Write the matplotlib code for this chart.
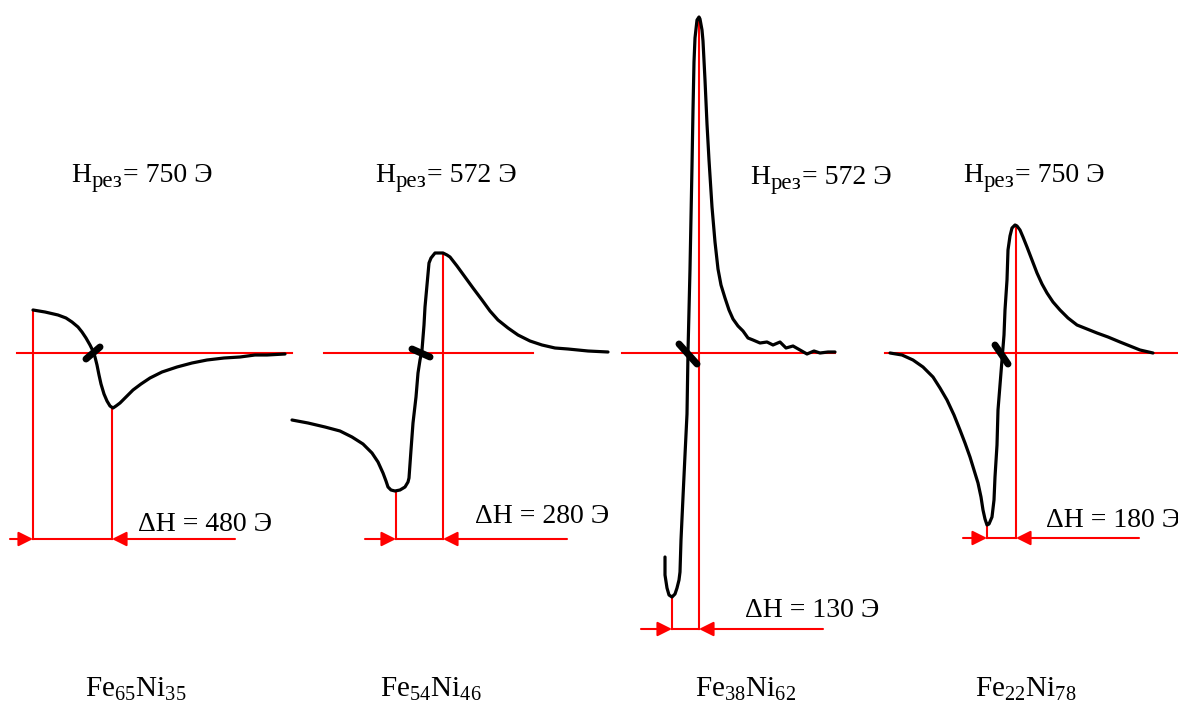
import numpy as np
import matplotlib
matplotlib.use("Agg")
import matplotlib.pyplot as plt

plt.rcParams["font.family"] = ["Liberation Serif", "DejaVu Serif"]
plt.rcParams["mathtext.fontset"] = "custom"
plt.rcParams["mathtext.rm"] = "Liberation Serif"
plt.rcParams["mathtext.it"] = "Liberation Serif:italic"

# curves, image pixel coordinates (x right, y down)
fe65_x = [33, 45, 58, 66, 72, 78, 82, 86, 90, 93, 95, 97, 99, 101, 104, 107, 110, 113,
          116, 120, 126, 133, 141, 150, 162, 177, 192, 207, 224, 240, 255, 267, 285]
fe65_y = [310, 312, 315, 318, 322, 327, 332, 338, 345, 351, 357, 365, 375, 384, 394, 401, 406, 408,
          406, 403, 397, 390, 384, 378, 372, 367, 363, 360, 358, 357, 355, 355, 354]

fe54_x = [292, 308, 325, 340, 352, 363, 372, 378, 383, 386, 388, 391, 395, 400, 405, 408,
          409, 411, 413, 416, 418, 420, 422, 424, 425, 427, 429, 431, 435, 440, 443, 447,
          450, 457, 465, 473, 482, 490, 498, 508, 518, 530, 542, 555, 568, 588, 608]
fe54_y = [420, 423, 427, 431, 437, 444, 453, 462, 473, 481, 487, 490, 491, 490, 487, 482,
          478, 450, 423, 397, 373, 360, 350, 325, 307, 285, 263, 258, 253, 253, 253, 255,
          257, 266, 277, 288, 300, 311, 320, 328, 335, 341, 345, 348, 349, 351, 352]

fe38_x = [665, 665, 667, 669, 672, 675, 677, 679, 680, 681, 683, 685, 687, 688, 690, 692,
          693, 694, 695, 697, 699, 700, 702, 703, 705, 707, 709, 712, 715, 718, 721, 725,
          729, 733, 738, 743, 748, 753, 760, 767, 773, 780, 786, 793, 800, 807, 814, 820, 828, 835]
fe38_y = [557, 575, 588, 595, 597, 594, 588, 580, 572, 540, 497, 455, 414, 352, 269, 166,
          110, 62, 38, 20, 17, 19, 30, 41, 80, 124, 160, 207, 242, 269, 285, 298,
          310, 319, 326, 331, 338, 340, 343, 342, 345, 342, 348, 346, 350, 354, 351, 353, 352, 352]

fe22_x = [890, 902, 913, 923, 933, 940, 947, 954, 960, 965, 970, 974, 978, 981, 983, 985,
          987, 989, 992, 994, 995, 997, 998, 1000, 1002, 1004, 1005, 1007, 1008, 1010, 1012,
          1015, 1017, 1020, 1023, 1027, 1032, 1037, 1042, 1047, 1053, 1060, 1068, 1077, 1087,
          1097, 1108, 1120, 1130, 1140, 1153]
fe22_y = [353, 355, 360, 367, 377, 388, 400, 415, 430, 443, 457, 470, 483, 497, 510, 519,
          525, 524, 517, 500, 477, 445, 410, 385, 360, 335, 310, 280, 250, 236, 228,
          225, 226, 230, 237, 247, 260, 273, 284, 293, 302, 310, 318, 325, 329,
          333, 337, 342, 346, 350, 353]

curves = [(fe65_x, fe65_y), (fe54_x, fe54_y), (fe38_x, fe38_y), (fe22_x, fe22_y)]

# guide lines per panel
base_y = 353
base_x0 = [17, 324, 622, 885]
base_x1 = [292, 533, 835, 1178]
left_x = [33, 396, 672, 987]
left_top = [310, 491, 598, 525]
right_x = [112, 443, 699, 1016]
right_top = [408, 253, 17, 225]
arrow_y = [539, 539, 629, 538]
arrow_x0 = [10, 365, 641, 963]
arrow_x1 = [235, 567, 823, 1139]
tick_x = [(86, 100), (412, 430), (679, 697), (995, 1008)]
tick_y = [(359, 347), (349, 357), (344, 364), (345, 364)]

dh_labels = ["ΔH = 480 Э", "ΔH = 280 Э", "ΔH = 130 Э", "ΔH = 180 Э"]
dh_pos = [(138, 531), (475, 523), (745, 617), (1046, 527)]
h_values = ["750", "572", "572", "750"]
h_pos = [(71, 182), (375, 182), (750, 184), (963, 182)]
alloys = [r"$\mathregular{Fe_{65}Ni_{35}}$", r"$\mathregular{Fe_{54}Ni_{46}}$",
          r"$\mathregular{Fe_{38}Ni_{62}}$", r"$\mathregular{Fe_{22}Ni_{78}}$"]
alloy_pos = [(85, 697), (380, 697), (695, 697), (975, 697)]

fig = plt.figure(figsize=(11.78, 7.04), dpi=100)
ax = fig.add_axes([0, 0, 1, 1])
ax.set_xlim(0, 1178)
ax.set_ylim(704, 0)
ax.axis("off")
renderer = fig.canvas.get_renderer()

red = "#ff0000"
fs = 20


def h_label(x, y, value):
    # "H" + lowered smaller "рез" + "= value Э", placed piece by piece
    t = ax.text(x, y, "H", fontsize=fs, ha="left", va="baseline")
    bb = t.get_window_extent(renderer)
    x1 = ax.transData.inverted().transform((bb.x1, bb.y0))[0]
    s = ax.text(x1 + 1, y + 5, "рез", fontsize=fs * 0.82, ha="left", va="baseline")
    bb = s.get_window_extent(renderer)
    x2 = ax.transData.inverted().transform((bb.x1, bb.y0))[0]
    ax.text(x2, y, "= " + value + " Э", fontsize=fs, ha="left", va="baseline")


for i in range(4):
    ax.plot([base_x0[i], base_x1[i]], [base_y, base_y], color=red, lw=1.5)
    ax.plot([left_x[i], left_x[i]], [left_top[i], arrow_y[i]], color=red, lw=1.5)
    ax.plot([right_x[i], right_x[i]], [right_top[i], arrow_y[i]], color=red, lw=1.5)
    ax.plot([left_x[i], right_x[i]], [arrow_y[i], arrow_y[i]], color=red, lw=1.5)
    ax.annotate("", xy=(left_x[i], arrow_y[i]), xytext=(arrow_x0[i], arrow_y[i]),
                arrowprops=dict(arrowstyle="-|>", color=red, lw=1.5, mutation_scale=22,
                                shrinkA=0, shrinkB=0))
    ax.annotate("", xy=(right_x[i], arrow_y[i]), xytext=(arrow_x1[i], arrow_y[i]),
                arrowprops=dict(arrowstyle="-|>", color=red, lw=1.5, mutation_scale=22,
                                shrinkA=0, shrinkB=0))

    cx, cy = curves[i]
    ax.plot(cx, cy, color="black", lw=2.3, solid_joinstyle="round", solid_capstyle="round", zorder=3)
    ax.plot(tick_x[i], tick_y[i], color="black", lw=5, solid_capstyle="round", zorder=4)

    ax.text(dh_pos[i][0], dh_pos[i][1], dh_labels[i], fontsize=fs, ha="left", va="baseline")
    h_label(h_pos[i][0], h_pos[i][1], h_values[i])
    ax.text(alloy_pos[i][0], alloy_pos[i][1], alloys[i], fontsize=21, ha="left", va="baseline")

fig.savefig("out.png", dpi=100)
